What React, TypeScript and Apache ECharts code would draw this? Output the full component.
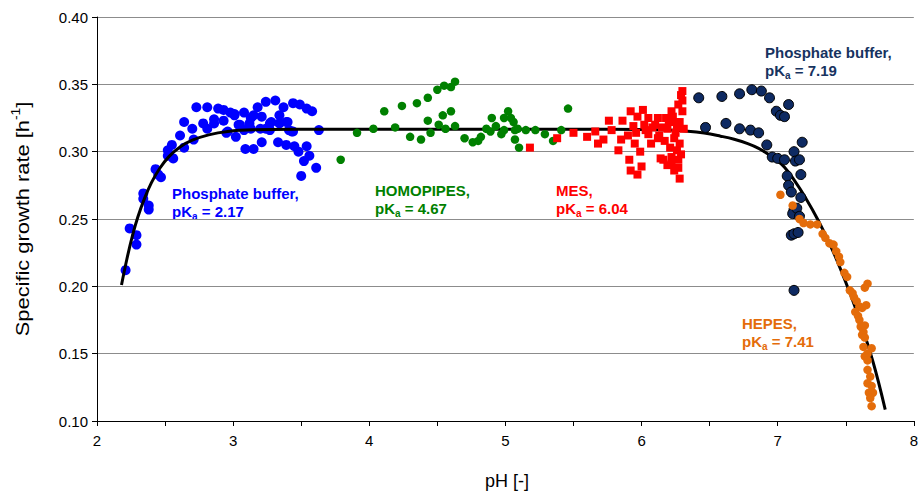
import React, { useEffect, useRef } from "react";
import * as echarts from "echarts";

// [pH, specific growth rate]
const phosphate217: number[][] = [
  [2.21, 0.212], [2.24, 0.243], [2.29, 0.238], [2.29, 0.231], [2.34, 0.269], [2.34, 0.265],
  [2.38, 0.26], [2.38, 0.257], [2.43, 0.287], [2.45, 0.283], [2.47, 0.281], [2.52, 0.301],
  [2.52, 0.297], [2.56, 0.295], [2.55, 0.305], [2.61, 0.312], [2.64, 0.303], [2.64, 0.322],
  [2.7, 0.317], [2.71, 0.309], [2.73, 0.333], [2.81, 0.333], [2.78, 0.321], [2.81, 0.317],
  [2.86, 0.324], [2.86, 0.321], [2.89, 0.332], [2.93, 0.331], [2.93, 0.323], [2.96, 0.315],
  [2.98, 0.329], [3.01, 0.327], [3.02, 0.311], [3.04, 0.32], [3.08, 0.329], [3.09, 0.302],
  [3.12, 0.321], [3.13, 0.325], [3.15, 0.327], [3.15, 0.302], [3.18, 0.333], [3.21, 0.326],
  [3.21, 0.307], [3.24, 0.337], [3.24, 0.317], [3.27, 0.321], [3.27, 0.316], [3.31, 0.338],
  [3.33, 0.307], [3.34, 0.327], [3.37, 0.333], [3.39, 0.305], [3.39, 0.322], [3.41, 0.316],
  [3.44, 0.336], [3.45, 0.304], [3.44, 0.315], [3.49, 0.335], [3.48, 0.3], [3.54, 0.304],
  [3.52, 0.293], [3.5, 0.282], [3.56, 0.297], [3.61, 0.288], [3.63, 0.316], [3.54, 0.332],
  [3.58, 0.33], [3.01, 0.328], [3.08, 0.316], [3.13, 0.317], [3.2, 0.317], [3.28, 0.322],
  [3.34, 0.321], [3.4, 0.322], [3.43, 0.315], [2.95, 0.314], [3.05, 0.32]
];

const homopipes467: number[][] = [
  [3.79, 0.294], [3.91, 0.314], [4.03, 0.317], [4.11, 0.33], [4.19, 0.318], [4.24, 0.334],
  [4.3, 0.311], [4.35, 0.336], [4.38, 0.309], [4.43, 0.34], [4.43, 0.323], [4.45, 0.314],
  [4.5, 0.346], [4.51, 0.32], [4.54, 0.327], [4.55, 0.349], [4.56, 0.317], [4.6, 0.348],
  [4.6, 0.33], [4.63, 0.319], [4.63, 0.352], [4.7, 0.31], [4.76, 0.307], [4.8, 0.308],
  [4.82, 0.311], [4.86, 0.317], [4.89, 0.315], [4.9, 0.325], [4.93, 0.319], [4.97, 0.313],
  [4.99, 0.316], [4.99, 0.325], [5.02, 0.33], [5.04, 0.325], [5.06, 0.322], [5.07, 0.316],
  [5.07, 0.309], [5.09, 0.317], [5.1, 0.303], [5.15, 0.316], [5.22, 0.316], [5.29, 0.313],
  [5.35, 0.308], [5.41, 0.316], [5.46, 0.332]
];

const mes604: number[][] = [
  [5.18, 0.303], [5.38, 0.31], [5.5, 0.314], [5.6, 0.311], [5.66, 0.315], [5.68, 0.306],
  [5.72, 0.309], [5.76, 0.323], [5.78, 0.316], [5.83, 0.301], [5.85, 0.309], [5.86, 0.323],
  [5.9, 0.312], [5.92, 0.33], [5.94, 0.319], [5.95, 0.306], [5.91, 0.294], [5.92, 0.286],
  [5.97, 0.283], [5.99, 0.3], [6.0, 0.289], [5.97, 0.326], [6.01, 0.331], [6.02, 0.32],
  [6.05, 0.313], [6.07, 0.306], [6.1, 0.32], [6.12, 0.325], [6.13, 0.312], [6.14, 0.295],
  [6.17, 0.308], [6.18, 0.325], [6.19, 0.317], [6.21, 0.303], [6.22, 0.291], [6.22, 0.33],
  [6.24, 0.286], [6.25, 0.314], [6.25, 0.322], [6.27, 0.335], [6.28, 0.306], [6.29, 0.298],
  [6.29, 0.342], [6.3, 0.33], [6.31, 0.317], [6.28, 0.28], [6.19, 0.29], [6.16, 0.294],
  [6.27, 0.294], [6.3, 0.345], [6.05, 0.325], [6.08, 0.318], [6.15, 0.318], [6.2, 0.322],
  [6.23, 0.326], [6.26, 0.318], [6.28, 0.322], [6.3, 0.338], [6.12, 0.31], [6.03, 0.316],
  [5.96, 0.314], [6.24, 0.31], [6.26, 0.301], [6.22, 0.296], [6.27, 0.288]
];

const phosphate719: number[][] = [
  [6.42, 0.34], [6.47, 0.318], [6.59, 0.341], [6.62, 0.321], [6.72, 0.343], [6.72, 0.317],
  [6.8, 0.316], [6.81, 0.346], [6.86, 0.314], [6.88, 0.345], [6.94, 0.34], [6.92, 0.305],
  [6.99, 0.33], [7.02, 0.327], [7.05, 0.326], [7.08, 0.335], [6.96, 0.296], [7.0, 0.295],
  [7.05, 0.294], [7.12, 0.3], [7.13, 0.293], [7.18, 0.307], [7.16, 0.294], [7.07, 0.282],
  [7.08, 0.275], [7.1, 0.27], [7.17, 0.283], [7.17, 0.266], [7.12, 0.257], [7.11, 0.254],
  [7.14, 0.258], [7.16, 0.252], [7.1, 0.238], [7.12, 0.239], [7.15, 0.24], [7.12, 0.197]
];

const hepes741: number[][] = [
  [7.02, 0.268], [7.11, 0.26], [7.16, 0.25], [7.19, 0.247], [7.24, 0.246], [7.29, 0.246],
  [7.33, 0.239], [7.35, 0.236], [7.38, 0.232], [7.41, 0.231], [7.43, 0.226], [7.45, 0.222],
  [7.46, 0.218], [7.49, 0.21], [7.51, 0.207], [7.53, 0.197], [7.55, 0.195], [7.56, 0.192],
  [7.58, 0.189], [7.6, 0.185], [7.57, 0.181], [7.59, 0.178], [7.62, 0.184], [7.65, 0.186],
  [7.66, 0.202], [7.64, 0.199], [7.6, 0.175], [7.61, 0.17], [7.63, 0.166], [7.64, 0.171],
  [7.62, 0.164], [7.64, 0.162], [7.63, 0.155], [7.66, 0.15], [7.69, 0.154], [7.64, 0.148],
  [7.66, 0.145], [7.66, 0.138], [7.68, 0.133], [7.66, 0.128], [7.69, 0.126], [7.67, 0.121],
  [7.7, 0.121], [7.68, 0.117], [7.69, 0.111]
];

// model curve
const fitCurve: number[][] = [
  [2.18, 0.201], [2.22, 0.2205], [2.26, 0.2375], [2.3, 0.2515], [2.35, 0.2655], [2.4, 0.277],
  [2.46, 0.2875], [2.53, 0.2965], [2.61, 0.3035], [2.7, 0.3085], [2.82, 0.3125], [2.96, 0.315],
  [3.15, 0.3162], [3.5, 0.3166], [4.5, 0.3167], [5.5, 0.3167], [6.0, 0.3165], [6.2, 0.316],
  [6.34, 0.3152], [6.46, 0.3138], [6.58, 0.3115], [6.68, 0.3092], [6.78, 0.306], [6.86, 0.3025],
  [6.92, 0.2988], [6.99, 0.294], [7.05, 0.2885], [7.12, 0.279], [7.2, 0.2665], [7.3, 0.2485],
  [7.4, 0.2275], [7.5, 0.203], [7.6, 0.1755], [7.7, 0.144], [7.79, 0.1085]
];

const xTicks = { min: 2, max: 8, step: 1 };
const yTicks = { min: 0.1, max: 0.4, step: 0.05 };

const FONT = '"Liberation Sans", Arial, sans-serif';

function labelLines(x: number, y: number, name: string, pka: string, color: string) {
  return [
    {
      type: "text",
      x,
      y,
      silent: true,
      style: {
        text: name,
        fill: color,
        fontSize: 15,
        fontWeight: "bold",
        fontFamily: FONT,
        verticalAlign: "middle",
        align: "left",
      },
    },
    {
      type: "text",
      x,
      y: y + 18,
      silent: true,
      style: {
        text: "{m|pK}{s|a}{m| = " + pka + "}",
        fill: color,
        verticalAlign: "middle",
        align: "left",
        rich: {
          m: { fontSize: 15, fontWeight: "bold", fontFamily: FONT, fill: color, lineHeight: 20 },
          s: { fontSize: 10, fontWeight: "bold", fontFamily: FONT, fill: color, lineHeight: 10, verticalAlign: "bottom" },
        },
      },
    },
  ];
}

export default function App() {
  const ref = useRef<HTMLDivElement>(null);
  useEffect(() => {
    if (!ref.current) return;
    const chart = echarts.init(ref.current, undefined, { renderer: "svg" });
    const scatter = (data: number[][], color: string, size: number, symbol = "circle", border?: string) => ({
      type: "scatter",
      data,
      symbol,
      symbolSize: size,
      itemStyle: border
        ? { color, borderColor: border, borderWidth: 1, opacity: 1 }
        : { color, opacity: 1 },
      emphasis: { disabled: true },
    });
    chart.setOption({
      animation: false,
      grid: { left: 97, right: 4, top: 17, bottom: 76, containLabel: false },
      xAxis: {
        type: "value",
        min: xTicks.min,
        max: xTicks.max,
        interval: xTicks.step,
        axisLine: { show: true, lineStyle: { color: "#000", width: 1 } },
        axisTick: { show: true, inside: false, length: 5, lineStyle: { color: "#000" } },
        minorTick: { show: true, splitNumber: 2, length: 5, lineStyle: { color: "#000" } },
        splitLine: { show: false },
        axisLabel: { fontSize: 15, color: "#000", fontFamily: FONT, margin: 12 },
      },
      yAxis: {
        type: "value",
        min: yTicks.min,
        max: yTicks.max,
        interval: yTicks.step,
        axisLine: { show: true, lineStyle: { color: "#000", width: 1 } },
        axisTick: { show: true, inside: false, length: 5, lineStyle: { color: "#000" } },
        splitLine: { show: true, lineStyle: { color: "#8c8c8c", width: 1 } },
        axisLabel: {
          fontSize: 15,
          color: "#000",
          fontFamily: FONT,
          margin: 9,
          formatter: (v: number) => v.toFixed(2),
        },
      },
      series: [
        scatter(phosphate217, "#0000ff", 10),
        {
          type: "line",
          data: fitCurve,
          showSymbol: false,
          smooth: 0.4,
          lineStyle: { color: "#000", width: 3 },
          z: 3,
          emphasis: { disabled: true },
        },
        { ...scatter(homopipes467, "#008000", 8.5), z: 4 },
        { ...scatter(mes604, "#ff0000", 8, "rect"), z: 4 },
        { ...scatter(phosphate719, "#0e2a62", 10, "circle", "#000"), z: 4 },
        { ...scatter(hepes741, "#e46c0a", 8.5), z: 4 },
      ],
      graphic: [
        ...labelLines(172, 193, "Phosphate buffer,", "2.17", "#0000ff"),
        ...labelLines(375, 190, "HOMOPIPES,", "4.67", "#008000"),
        ...labelLines(556, 190, "MES,", "6.04", "#ff0000"),
        ...labelLines(765, 52, "Phosphate buffer,", "7.19", "#17335f"),
        ...labelLines(742, 323, "HEPES,", "7.41", "#e46c0a"),
        {
          type: "text",
          x: 507,
          y: 481,
          silent: true,
          style: {
            text: "pH [-]",
            fill: "#000",
            fontSize: 18,
            fontFamily: FONT,
            align: "center",
            verticalAlign: "middle",
          },
        },
        {
          type: "text",
          x: 22,
          y: 219,
          rotation: Math.PI / 2,
          scaleX: 1.15,
          silent: true,
          style: {
            text: "{m|Specific growth rate [h}{p|-1}{m|]}",
            align: "center",
            verticalAlign: "middle",
            fill: "#000",
            rich: {
              m: { fontSize: 19, fontFamily: FONT, fill: "#000", lineHeight: 24 },
              p: { fontSize: 12, fontFamily: FONT, fill: "#000", lineHeight: 12, verticalAlign: "top" },
            },
          },
        },
      ],
    });
    return () => chart.dispose();
  }, []);
  return (
    <div
      ref={ref}
      style={{ position: "fixed", left: 0, top: 0, width: 921, height: 497, background: "#fff" }}
    />
  );
}
